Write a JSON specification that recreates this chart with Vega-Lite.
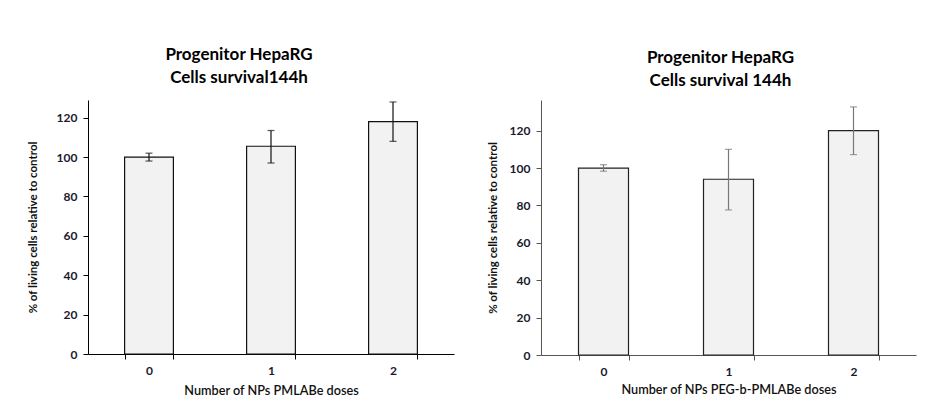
{
  "$schema": "https://vega.github.io/schema/vega-lite/v6.json",
  "background": "white",
  "padding": {"left": 27, "top": 46, "right": 5, "bottom": 5},
  "spacing": 33,
  "config": {
    "view": {"stroke": null},
    "font": "Lato",
    "axis": {"grid": false, "labelFont": "Lato", "titleFont": "Lato", "labelFontWeight": "bold", "labelFontSize": 12, "labelColor": "#1a1a2e", "titleColor": "#111", "tickSize": 5},
    "title": {"font": "Lato", "fontSize": 17, "fontWeight": "bold", "color": "#000", "lineHeight": 23, "offset": 12}
  },
  "hconcat": [
    {
      "width": 366,
      "height": 254,
      "title": {"text": ["Progenitor HepaRG", "Cells survival144h"], "dx": -32, "offset": 13},
      "data": {"values": [
        {"dose": "0", "mean": 100, "lo": 98, "hi": 102},
        {"dose": "1", "mean": 105.5, "lo": 97, "hi": 113.5},
        {"dose": "2", "mean": 118, "lo": 108, "hi": 128}
      ]},
      "encoding": {
        "x": {"field": "dose", "type": "ordinal", "scale": {"paddingInner": 0.6, "paddingOuter": 0.3},
          "axis": {"title": "Number of NPs PMLABe doses", "labelAngle": 0, "tickBand": "extent", "labelPadding": 6, "titleFontSize": 12.7, "titleFontWeight": 600, "titlePadding": 8, "domainColor": "#000", "tickColor": "#000"}}
      },
      "layer": [
        {"mark": {"type": "bar", "fill": "#f2f2f2", "stroke": "#111", "strokeWidth": 1.2},
          "encoding": {"y": {"field": "mean", "type": "quantitative", "scale": {"domain": [0, 129], "nice": false},
            "axis": {"title": "% of living cells relative to control", "values": [0, 20, 40, 60, 80, 100, 120], "titleFontSize": 11.5, "titleFontWeight": "bold", "titlePadding": 18, "domainColor": "#000", "tickColor": "#000", "labelPadding": 6}}}},
        {"mark": {"type": "rule", "color": "#111", "strokeWidth": 1.2},
          "encoding": {"y": {"field": "lo", "type": "quantitative"}, "y2": {"field": "hi"}}},
        {"mark": {"type": "tick", "color": "#111", "thickness": 1.2, "size": 7},
          "encoding": {"y": {"field": "lo", "type": "quantitative"}}},
        {"mark": {"type": "tick", "color": "#111", "thickness": 1.2, "size": 7},
          "encoding": {"y": {"field": "hi", "type": "quantitative"}}}
      ]
    },
    {
      "width": 375,
      "height": 255,
      "title": {"text": ["Progenitor HepaRG", "Cells survival 144h"], "dx": -8, "offset": 10},
      "data": {"values": [
        {"dose": "0", "mean": 100, "lo": 98.3, "hi": 101.8},
        {"dose": "1", "mean": 94, "lo": 77.6, "hi": 110},
        {"dose": "2", "mean": 120, "lo": 107.2, "hi": 132.7}
      ]},
      "encoding": {
        "x": {"field": "dose", "type": "ordinal", "scale": {"paddingInner": 0.6, "paddingOuter": 0.3},
          "axis": {"title": "Number of NPs PEG-b-PMLABe doses", "labelAngle": 0, "tickBand": "extent", "labelPadding": 6, "titleFontSize": 12.7, "titleFontWeight": 600, "titlePadding": 6, "domainColor": "#555", "tickColor": "#555"}}
      },
      "layer": [
        {"mark": {"type": "bar", "fill": "#f2f2f2", "stroke": "#222", "strokeWidth": 1.2},
          "encoding": {"y": {"field": "mean", "type": "quantitative", "scale": {"domain": [0, 136.4], "nice": false},
            "axis": {"title": "% of living cells relative to control", "values": [0, 20, 40, 60, 80, 100, 120], "titleFontSize": 11.5, "titleFontWeight": "bold", "titlePadding": 11, "domainColor": "#555", "tickColor": "#555", "labelPadding": 6}}}},
        {"mark": {"type": "rule", "color": "#777", "strokeWidth": 1.2},
          "encoding": {"y": {"field": "lo", "type": "quantitative"}, "y2": {"field": "hi"}}},
        {"mark": {"type": "tick", "color": "#777", "thickness": 1.2, "size": 7},
          "encoding": {"y": {"field": "lo", "type": "quantitative"}}},
        {"mark": {"type": "tick", "color": "#777", "thickness": 1.2, "size": 7},
          "encoding": {"y": {"field": "hi", "type": "quantitative"}}}
      ]
    }
  ]
}
